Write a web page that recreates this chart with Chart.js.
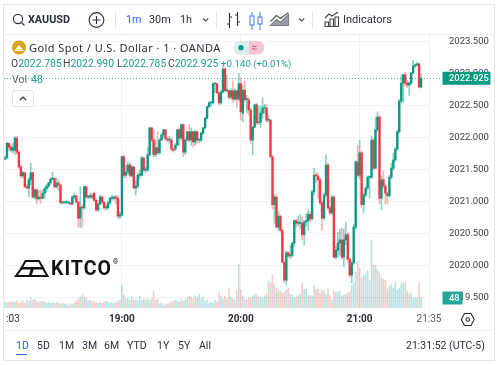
<!DOCTYPE html>
<html>
<head>
<meta charset="utf-8">
<style>
html,body{margin:0;padding:0;background:#fff;width:500px;height:365px;overflow:hidden;font-family:Roboto,sans-serif;color:#2a2e39}
#c{position:absolute;left:0;top:0}
.t{position:absolute;white-space:nowrap;line-height:14px;height:14px;font-size:11px}
.b{position:absolute;background:#e3e6ec}
svg{position:absolute;overflow:visible}
.g{color:#1a9d87}
.o{top:57px;font-size:10.4px;color:#444}
</style>
<script src="https://cdn.jsdelivr.net/npm/chart.js@4/dist/chart.umd.min.js"></script>
</head>
<body>
<canvas id="c" width="500" height="365"></canvas>

<!-- frame -->
<div class="b" style="left:3px;top:4px;width:492px;height:1px"></div>
<div class="b" style="left:3px;top:360px;width:492px;height:1px"></div>
<div class="b" style="left:3px;top:4px;width:1px;height:357px"></div>
<div class="b" style="left:494px;top:4px;width:1px;height:357px"></div>
<div class="b" style="left:3px;top:34px;width:492px;height:1px;background:#eceef2"></div>
<div class="b" style="left:3px;top:330px;width:492px;height:1px;background:#eceef2"></div>
<div class="b" style="left:115px;top:11px;width:1px;height:18px"></div>
<div class="b" style="left:216px;top:11px;width:1px;height:18px"></div>
<div class="b" style="left:312px;top:11px;width:1px;height:18px"></div>

<!-- toolbar -->
<svg style="left:0;top:0" width="500" height="40" fill="none" stroke="#2a2e39" stroke-width="1.1">
  <circle cx="18" cy="19" r="4.6"/><path d="M21.5 22.5L24.5 25.5"/>
  <circle cx="96.5" cy="20" r="7.4"/><path d="M96.5 16v8M92.5 20h8"/>
  <path d="M203 18.5l2.6 2.5 2.6-2.5" stroke="#555"/>
  <path d="M229.5 13v15M229.5 24h-2.5M229.5 17h2.5M237.5 12v14M237.5 15h-2.5M237.5 22h2.5"/>
  <path d="M252 12v18M260 12v18" stroke="#5a7fe0"/>
  <rect x="250" y="16" width="4" height="9" fill="#fff" stroke="#5a7fe0"/>
  <rect x="258" y="17" width="4" height="7" fill="#fff" stroke="#5a7fe0"/>
  <path d="M270.5 25.5l6-6 4 3 8-8v11h-18z" fill="#9a9ea8" stroke="#7a7e88"/>
  <path d="M270.5 21.5l6-6 4 3 8-6" stroke="#555"/>
  <path d="M299 18.5l2.6 2.5 2.6-2.5" stroke="#555"/>
  <path d="M325 26v-4h3.5v4M330 26v-7h3.5v7M335 26v-9h3.5v9M324.5 26.5h14.5M325 18l4-4 3 2 6-4" stroke="#444"/>
</svg>
<span class="t" style="left:28px;top:13px;font-weight:700;font-size:10.8px">XAUUSD</span>
<span class="t" style="left:126px;top:13px;color:#2962ff;font-size:10.8px">1m</span>
<span class="t" style="left:149px;top:13px;font-size:10.8px">30m</span>
<span class="t" style="left:180px;top:13px;font-size:10.8px">1h</span>
<span class="t" style="left:343px;top:13px;font-size:11px">Indicators</span>

<!-- legend -->
<svg style="left:0;top:0" width="300" height="110" fill="none">
  <circle cx="19" cy="47.5" r="7" fill="#d9a21b"/>
  <path d="M15 49.5l4-4.5 4 4.5z" fill="#fff"/><path d="M14.5 50.5h9" stroke="#fff"/>
  <rect x="233.5" y="41" width="31" height="13.5" rx="6.7" fill="#f7c6d6"/>
  <path d="M240 41h9v13.5h-9a6.7 6.7 0 0 1 0-13.5z" fill="#d9efeb"/>
  <circle cx="241" cy="47.7" r="2.6" fill="#089981"/>
  <path d="M252 46.4c1.5-1.2 2.5 1 4.5 0M252 49c1.5-1.2 2.5 1 4.5 0" stroke="#e0456f"/>
  <rect x="12.5" y="90.5" width="21" height="16" rx="2.5" fill="#fff" stroke="#e0e3eb"/>
  <path d="M20 100l3-3 3 3" stroke="#2a2e39" stroke-width="1.2"/>
</svg>
<span class="t" style="left:29px;top:41px;font-family:'Noto Sans';font-size:11px;letter-spacing:.44px">Gold Spot / U.S. Dollar · 1 · OANDA</span>
<span class="t o" style="left:11px">O<span class="g">2022.785</span></span>
<span class="t o" style="left:63px">H<span class="g">2022.990</span></span>
<span class="t o" style="left:117px">L<span class="g">2022.785</span></span>
<span class="t o" style="left:168px">C<span class="g">2022.925</span></span>
<span class="t o g" style="left:221px;font-size:9.7px;color:#1a9d87">+0.140 (+0.01%)</span>
<span class="t" style="left:12px;top:73px;font-size:10.6px;color:#666">Vol</span>
<span class="t g" style="left:31px;top:73px;font-size:10.6px">48</span>

<!-- logo -->
<svg style="left:0;top:0" width="130" height="290" fill="none" stroke="#111" stroke-width="2">
  <path d="M25.5 261h13.5l4 7h-21.5z"/>
  <path d="M21.5 268.5h10.5l-2.5 7.5h-13.5z"/>
  <path d="M33 268.5h10l4.5 7.5h-17z"/>
</svg>
<span class="t" style="left:51px;top:258px;height:22px;line-height:22px;font-size:19.5px;font-weight:700;color:#111;letter-spacing:1px">KITCO</span>
<span class="t" style="left:113px;top:257px;font-size:6.5px;color:#111;height:10px;line-height:10px">®</span>

<!-- footer -->
<span class="t" style="left:16px;top:339px;color:#2962ff;font-size:10.5px">1D</span>
<div class="b" style="left:16px;top:354px;width:11px;height:1px;background:#2962ff"></div>
<span class="t" style="left:37px;top:339px;font-size:10.5px">5D</span>
<span class="t" style="left:59px;top:339px;font-size:10.5px">1M</span>
<span class="t" style="left:82px;top:339px;font-size:10.5px">3M</span>
<span class="t" style="left:104px;top:339px;font-size:10.5px">6M</span>
<span class="t" style="left:127px;top:339px;font-size:10.5px">YTD</span>
<span class="t" style="left:157px;top:339px;font-size:10.5px">1Y</span>
<span class="t" style="left:178px;top:339px;font-size:10.5px">5Y</span>
<span class="t" style="left:199px;top:339px;font-size:10.5px">All</span>
<span class="t" style="left:406px;top:339px;font-size:10.5px">21:31:52 (UTC-5)</span>
<svg style="left:0;top:0" width="500" height="330" fill="none" stroke="#2a2e39" stroke-width="1.1">
  <path d="M464.5 313.5h6.5l3.2 6-3.2 6h-6.5l-3.2-6z"/><circle cx="467.7" cy="319.5" r="1.8"/>
</svg>

<script>
const minuteLabels = [];
for (let m = 1; m <= 215; m++) {
  const h = 18 + Math.floor(m / 60), mm = m % 60;
  minuteLabels.push(h + ':' + String(mm).padStart(2, '0'));
}
const opens = [
2021.66,2021.68,2021.91,2021.85,2021.80,2021.80,2021.99,2021.77,2021.54,2021.40,
2021.45,2021.23,2021.21,2021.34,2021.45,2021.07,2021.18,2021.04,2021.07,2021.05,
2021.13,2021.20,2021.24,2021.29,2021.35,2021.36,2021.23,2021.29,2021.26,2020.98,
2020.98,2020.98,2020.98,2020.98,2020.96,2021.07,2021.09,2020.99,2020.74,2020.91,
2020.90,2021.23,2021.07,2021.07,2021.09,2021.13,2021.02,2020.87,2020.96,2021.07,
2020.99,2020.90,2020.90,2020.98,2021.05,2021.05,2021.07,2021.05,2020.77,2020.79,
2021.70,2021.41,2021.46,2021.57,2021.40,2021.54,2021.21,2021.24,2021.41,2021.41,
2021.68,2021.49,2021.49,2021.73,2022.15,2021.96,2021.73,2021.84,2021.76,2021.96,
2022.04,2022.12,2021.98,2021.96,2021.96,2021.82,2021.82,2021.88,2022.12,2021.99,
2022.20,2021.77,2021.96,2022.09,2021.96,2022.09,2021.93,2022.09,2021.96,2021.96,
2022.07,2022.15,2022.30,2022.48,2022.54,2022.54,2022.84,2022.84,2022.70,2022.54,
2022.71,2023.07,2022.73,2022.73,2022.63,2022.73,2022.60,2022.73,2022.60,2022.84,
2022.38,2022.74,2022.59,2022.59,2022.43,2021.96,2022.16,2022.51,2022.23,2022.24,
2022.38,2022.46,2022.46,2022.27,2022.27,2021.70,2020.95,2021.07,2020.60,2020.77,
2020.55,2020.05,2019.77,2020.20,2020.15,2020.16,2020.35,2020.70,2020.66,2020.66,
2020.66,2020.48,2020.68,2020.70,2020.80,2020.73,2021.15,2021.41,2021.40,2021.34,
2020.98,2020.74,2021.10,2021.57,2020.90,2020.82,2021.07,2020.13,2020.24,2020.35,
2020.40,2020.13,2020.40,2020.48,2020.10,2019.85,2020.04,2020.60,2021.62,2021.41,
2021.76,2020.95,2021.10,2021.21,2021.38,2021.38,2021.96,2021.52,2022.12,2022.32,
2021.05,2021.34,2021.24,2021.13,2021.09,2021.38,2021.52,2021.65,2021.82,2022.09,
2022.57,2022.85,2022.98,2022.85,2022.82,2022.85,2023.01,2023.12,2023.13,2023.15,
2022.785];
const closes = [
2021.68,2021.91,2021.85,2021.80,2021.84,2021.99,2021.77,2021.54,2021.40,2021.45,
2021.23,2021.21,2021.34,2021.45,2021.07,2021.18,2021.04,2021.07,2021.05,2021.13,
2021.20,2021.24,2021.29,2021.35,2021.36,2021.23,2021.29,2021.26,2020.98,2020.98,
2020.98,2020.98,2020.98,2020.96,2021.07,2021.09,2020.99,2020.74,2020.91,2020.90,
2021.23,2021.07,2021.07,2021.09,2021.07,2021.02,2020.87,2020.96,2021.07,2020.99,
2020.90,2020.90,2020.98,2021.05,2021.05,2021.07,2021.05,2020.77,2020.79,2021.70,
2021.41,2021.46,2021.57,2021.41,2021.54,2021.21,2021.24,2021.41,2021.41,2021.68,
2021.49,2021.49,2021.73,2022.15,2021.96,2021.73,2021.84,2021.76,2021.96,2022.04,
2022.12,2021.98,2021.96,2021.96,2021.82,2021.80,2021.88,2022.12,2021.99,2022.20,
2021.77,2021.96,2022.09,2021.96,2022.09,2021.93,2022.09,2021.96,2021.96,2022.07,
2022.15,2022.30,2022.48,2022.54,2022.54,2022.84,2022.84,2022.70,2022.54,2022.71,
2023.07,2022.73,2022.73,2022.63,2022.73,2022.60,2022.73,2022.60,2022.84,2022.40,
2022.74,2022.59,2022.59,2022.43,2021.96,2022.16,2022.51,2022.23,2022.24,2022.38,
2022.46,2022.46,2022.27,2022.27,2021.70,2020.95,2021.07,2020.60,2020.77,2020.55,
2020.05,2019.77,2020.20,2020.15,2020.16,2020.35,2020.70,2020.66,2020.66,2020.66,
2020.48,2020.68,2020.70,2020.80,2020.73,2021.15,2021.41,2021.40,2021.34,2020.98,
2020.74,2021.10,2021.57,2020.90,2020.82,2021.07,2020.13,2020.24,2020.35,2020.40,
2020.13,2020.40,2020.48,2020.10,2019.85,2020.04,2020.60,2021.62,2021.41,2021.76,
2020.95,2021.10,2021.21,2021.38,2021.38,2021.96,2021.52,2022.12,2022.32,2021.05,
2021.34,2021.24,2021.13,2021.09,2021.38,2021.52,2021.65,2021.82,2022.09,2022.57,
2022.85,2022.98,2022.85,2022.82,2022.85,2023.01,2023.12,2023.13,2023.15,2022.79,
2022.925];
const highs = [
2021.71,2021.93,2021.91,2021.88,2021.91,2022.02,2022.02,2021.80,2021.57,2021.48,
2021.46,2021.26,2021.38,2021.60,2021.46,2021.20,2021.20,2021.18,2021.18,2021.18,
2021.23,2021.27,2021.30,2021.37,2021.46,2021.37,2021.37,2021.34,2021.27,2021.00,
2020.99,2021.02,2020.99,2020.99,2021.09,2021.13,2021.10,2021.00,2021.23,2020.95,
2021.24,2021.24,2021.10,2021.13,2021.13,2021.15,2021.04,2020.98,2021.10,2021.09,
2021.00,2020.94,2021.00,2021.07,2021.10,2021.09,2021.10,2021.09,2020.84,2021.71,
2021.73,2021.57,2021.62,2021.60,2021.57,2021.55,2021.32,2021.45,2021.49,2021.71,
2021.70,2021.54,2021.84,2022.16,2022.16,2022.12,2021.96,2022.09,2021.98,2022.07,
2022.13,2022.13,2022.00,2022.02,2021.99,2021.85,2021.91,2022.13,2022.15,2022.21,
2022.21,2021.98,2022.10,2022.20,2022.15,2022.10,2022.12,2022.10,2021.98,2022.09,
2022.16,2022.32,2022.49,2022.57,2022.55,2022.85,2022.85,2022.85,2022.71,2022.74,
2023.13,2023.09,2022.98,2022.74,2022.76,2022.88,2022.76,2022.74,2023.00,2022.93,
2022.82,2022.88,2022.66,2022.63,2022.46,2022.18,2022.52,2022.54,2022.49,2022.49,
2022.62,2022.52,2022.51,2022.35,2022.29,2021.71,2021.12,2021.09,2020.84,2020.79,
2020.57,2020.07,2020.23,2020.21,2020.32,2020.37,2020.71,2020.73,2020.77,2020.80,
2020.77,2020.70,2020.82,2020.87,2020.85,2021.18,2021.52,2021.45,2021.45,2021.37,
2021.02,2021.13,2021.73,2021.60,2020.93,2021.09,2021.09,2020.30,2020.52,2020.57,
2020.59,2020.57,2020.68,2020.51,2020.12,2020.07,2020.65,2021.63,2021.88,2021.96,
2021.79,2021.13,2021.23,2021.40,2021.40,2022.02,2021.98,2022.32,2022.40,2022.34,
2021.40,2021.48,2021.27,2021.15,2021.41,2021.60,2021.76,2021.85,2022.12,2022.60,
2022.98,2022.99,2023.02,2022.90,2022.87,2023.02,2023.20,2023.15,2023.18,2023.16,
2022.99];
const lows = [
2021.66,2021.68,2021.80,2021.77,2021.76,2021.73,2021.74,2021.52,2021.37,2021.37,
2021.21,2021.20,2021.07,2021.26,2021.05,2021.04,2020.96,2021.02,2020.97,2021.04,
2021.05,2021.15,2021.21,2021.26,2021.34,2021.21,2021.21,2021.18,2020.96,2020.96,
2020.97,2020.96,2020.96,2020.95,2020.95,2021.04,2020.98,2020.60,2020.59,2020.60,
2020.88,2021.05,2021.04,2021.05,2021.04,2021.00,2020.84,2020.84,2020.95,2020.96,
2020.88,2020.87,2020.88,2020.96,2021.02,2021.02,2020.96,2020.74,2020.73,2020.77,
2021.37,2021.37,2021.43,2021.38,2021.38,2021.20,2021.10,2021.21,2021.35,2021.40,
2021.46,2021.45,2021.48,2021.71,2021.93,2021.70,2021.70,2021.73,2021.74,2021.95,
2022.00,2021.95,2021.93,2021.91,2021.79,2021.77,2021.79,2021.87,2021.88,2021.96,
2021.70,2021.73,2021.95,2021.93,2021.88,2021.85,2021.88,2021.91,2021.91,2021.93,
2022.04,2022.13,2022.29,2022.46,2022.49,2022.52,2022.70,2022.68,2022.51,2022.52,
2022.70,2022.71,2022.71,2022.60,2022.60,2022.54,2022.57,2022.46,2022.57,2022.27,
2022.24,2022.55,2022.38,2022.35,2021.90,2021.73,2022.15,2022.20,2022.20,2022.15,
2022.30,2022.38,2022.24,2022.24,2021.68,2020.88,2020.66,2020.59,2020.55,2020.52,
2020.04,2019.73,2019.70,2020.13,2020.10,2020.13,2020.30,2020.60,2020.62,2020.57,
2020.40,2020.32,2020.62,2020.55,2020.68,2020.71,2021.10,2021.30,2021.05,2020.95,
2020.55,2020.71,2021.07,2020.87,2020.80,2020.80,2020.12,2020.10,2020.13,2020.16,
2020.10,2019.98,2020.32,2020.05,2019.82,2019.73,2020.02,2020.57,2021.38,2021.35,
2020.91,2020.82,2021.07,2021.18,2021.05,2021.35,2021.49,2021.51,2022.10,2020.96,
2020.87,2021.21,2020.96,2020.96,2021.07,2021.35,2021.49,2021.62,2021.80,2022.07,
2022.54,2022.54,2022.80,2022.78,2022.66,2022.82,2022.99,2023.09,2023.12,2022.77,
2022.785];
const volumes = [
28,24,29,33,29,29,33,24,29,33,
24,38,33,48,38,43,33,29,29,33,
29,24,29,24,29,24,29,24,19,24,
19,19,14,19,19,24,33,43,53,62,
58,48,33,38,29,33,29,24,29,24,
29,33,29,24,29,24,29,33,38,110,
62,43,48,38,53,38,43,33,58,38,
43,38,48,38,43,82,38,43,19,24,
14,19,19,24,29,33,38,33,29,43,
33,38,48,58,53,43,58,48,67,43,
53,33,38,24,29,24,38,29,77,58,
43,58,43,96,53,43,38,82,211,86,
58,43,38,53,48,58,67,62,53,58,
48,58,67,130,120,158,115,96,82,82,
72,77,86,96,67,62,48,53,60,67,
120,91,91,62,58,58,110,91,91,72,
86,82,67,91,58,38,82,77,77,82,
58,62,67,72,77,106,120,173,226,192,
144,154,168,178,134,326,206,206,182,168,
144,139,134,91,106,115,96,125,86,96,
120,120,125,82,67,72,48,53,48,120,
48];
const priceTicks = [2023.5,2023,2022.5,2022,2021.5,2021,2020.5,2020,2019.5];
const timeTickIndex = [4,59,119,179,214];
const timeTickText = [':03','19:00','20:00','21:00','21:35'];
const lastPrice = 2022.925;
const lastVolume = 48;

const UP = '#089981', DOWN = '#f23645';
const isUp = opens.map((o, i) => closes[i] >= o);
const bodies = opens.map((o, i) => [o, closes[i]]);
const wicks = lows.map((l, i) => [l, highs[i]]);

const overlay = {
  id: 'overlay',
  afterDraw(chart) {
    const { ctx, chartArea: a, scales } = chart;
    const py = scales.y.getPixelForValue(lastPrice);
    ctx.save();
    ctx.strokeStyle = 'rgba(8,153,129,.75)'; ctx.lineWidth = 1; ctx.setLineDash([1, 2]);
    ctx.beginPath(); ctx.moveTo(a.left, Math.round(py) + .5); ctx.lineTo(a.right + 12, Math.round(py) + .5); ctx.stroke();
    ctx.setLineDash([]);
    ctx.fillStyle = UP; ctx.fillRect(442.5, py - 6.5, 48, 13);
    ctx.fillStyle = '#fff'; ctx.font = '500 9.4px Roboto'; ctx.textAlign = 'left'; ctx.textBaseline = 'middle';
    ctx.fillText(lastPrice.toFixed(3), 449, py + .5);
    const vy = scales.vol.getPixelForValue(lastVolume);
    ctx.fillStyle = '#26a69a'; ctx.fillRect(442.5, vy - 6.5, 20, 13);
    ctx.fillStyle = '#fff'; ctx.fillText(String(lastVolume), 449, vy + .5);
    ctx.restore();
  }
};

new Chart(document.getElementById('c'), {
  type: 'bar',
  data: {
    labels: minuteLabels,
    datasets: [
      { data: volumes, yAxisID: 'vol', grouped: false, order: 3, barThickness: 1,
        backgroundColor: isUp.map(u => u ? 'rgba(38,166,154,.3)' : 'rgba(239,83,80,.3)') },
      { data: wicks, yAxisID: 'y', grouped: false, order: 2, barThickness: 1,
        backgroundColor: isUp.map(u => u ? 'rgba(8,153,129,.45)' : 'rgba(242,54,69,.38)') },
      { data: bodies, yAxisID: 'y', grouped: false, order: 1, barThickness: 1.7, minBarLength: 1,
        backgroundColor: isUp.map(u => u ? UP : DOWN) }
    ]
  },
  options: {
    responsive: false, animation: false, devicePixelRatio: 1,
    layout: { padding: { left: 4, top: 34, right: 4, bottom: 35 } },
    plugins: { legend: { display: false }, tooltip: { enabled: false } },
    scales: {
      x: {
        type: 'category', offset: true,
        grid: { color: c => c.index === 0 ? 'rgba(0,0,0,0)' : '#f0f2f6', offset: false, drawTicks: false },
        border: { display: false },
        afterBuildTicks: s => { s.ticks = timeTickIndex.map(v => ({ value: v })); },
        afterFit: s => { s.height = 22; },
        ticks: {
          autoSkip: false, maxRotation: 0, padding: 5, color: c => c.index === 4 ? '#555a66' : '#2a2e39',
          font: c => ({ family: 'Roboto', size: 10, weight: (c.index >= 1 && c.index <= 3) ? 700 : 400 }),
          callback: v => timeTickText[timeTickIndex.indexOf(v)]
        }
      },
      y: {
        position: 'right', min: 2019.336, max: 2023.617,
        grid: { color: '#f0f2f6', drawTicks: false },
        border: { display: false },
        afterBuildTicks: s => { s.ticks = priceTicks.map(v => ({ value: v })); },
        afterFit: s => { s.width = 66; },
        ticks: {
          padding: 19, crossAlign: 'near', align: 'center', color: '#3a3e49',
          font: { family: 'Roboto', size: 9.5 },
          callback: v => v.toFixed(3)
        }
      },
      vol: { display: false, min: 0, max: 1317 }
    }
  },
  plugins: [overlay]
});
</script>
</body>
</html>
